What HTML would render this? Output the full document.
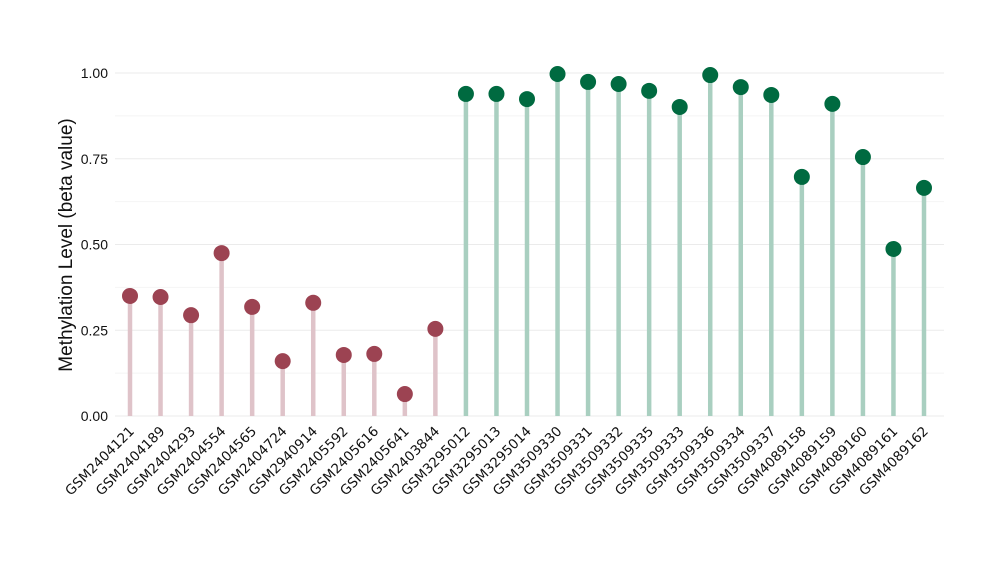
<!DOCTYPE html>
<html><head><meta charset="utf-8"><style>
body{margin:0;background:#fff;}
svg{display:block;font-family:"Liberation Sans",sans-serif;}
</style></head><body>
<svg id="chart" width="1000" height="580"></svg>
<script>
const categories=["GSM2404121","GSM2404189","GSM2404293","GSM2404554","GSM2404565","GSM2404724","GSM2940914","GSM2405592","GSM2405616","GSM2405641","GSM2403844","GSM3295012","GSM3295013","GSM3295014","GSM3509330","GSM3509331","GSM3509332","GSM3509335","GSM3509333","GSM3509336","GSM3509334","GSM3509337","GSM4089158","GSM4089159","GSM4089160","GSM4089161","GSM4089162"];
const values=[0.35,0.347,0.294,0.475,0.318,0.16,0.33,0.178,0.181,0.064,0.254,0.939,0.939,0.924,0.997,0.974,0.968,0.948,0.901,0.994,0.959,0.936,0.697,0.91,0.755,0.487,0.665];
const groups=[0,0,0,0,0,0,0,0,0,0,0,1,1,1,1,1,1,1,1,1,1,1,1,1,1,1,1];
const yTicks=[0,0.25,0.5,0.75,1.0];
const yTickLabels=["0.00","0.25","0.50","0.75","1.00"];
const NS="http://www.w3.org/2000/svg";
const svg=document.getElementById('chart');
const x0=130,x1=924,yb=416,yt=73,pl=115,pr=944;
const xs=i=>x0+(x1-x0)*i/(categories.length-1);
const ys=v=>yb-(yb-yt)*v;
function mk(t,a){const e=document.createElementNS(NS,t);for(const k in a)e.setAttribute(k,a[k]);svg.appendChild(e);return e;}
for(let k=0;k<yTicks.length-1;k++){
  const g=mk('line',{x1:pl,x2:pr,y1:ys((yTicks[k]+yTicks[k+1])/2),y2:ys((yTicks[k]+yTicks[k+1])/2),stroke:'#f4f4f4','stroke-width':1});
  
  
}
yTicks.forEach((t,k)=>{
  const g=mk('line',{x1:pl,x2:pr,y1:ys(t),y2:ys(t),stroke:'#ebebeb','stroke-width':1});
  
  
  const l=mk('text',{x:108,y:ys(t)+5,'text-anchor':'end','font-size':14,fill:'#111'});
  l.textContent=yTickLabels[k];
  
  
});
const yt2=mk('text',{x:72,y:245,'text-anchor':'middle','font-size':19,fill:'#111',transform:'rotate(-90 72 245)'});
yt2.textContent='Methylation Level (beta value)';


const stemC=['#dfc3c9','#a9cfc0'],dotC=['#9c4352','#006a40'];
categories.forEach((c,i)=>{
  const x=xs(i),g=groups[i];
  const s=mk('line',{x1:x,x2:x,y1:yb,y2:ys(values[i]),stroke:stemC[g],'stroke-width':4.5});
  
  
  const d=mk('circle',{cx:x,cy:ys(values[i]),r:8,fill:dotC[g]});
  
  
  const t=mk('text',{x:x+5,y:432,'text-anchor':'end','font-size':13.5,fill:'#111','font-family':'"DejaVu Sans",sans-serif',transform:`rotate(-45 ${x+5} 432)`});
  t.textContent=c;
  
  
});
</script>
</body></html>
